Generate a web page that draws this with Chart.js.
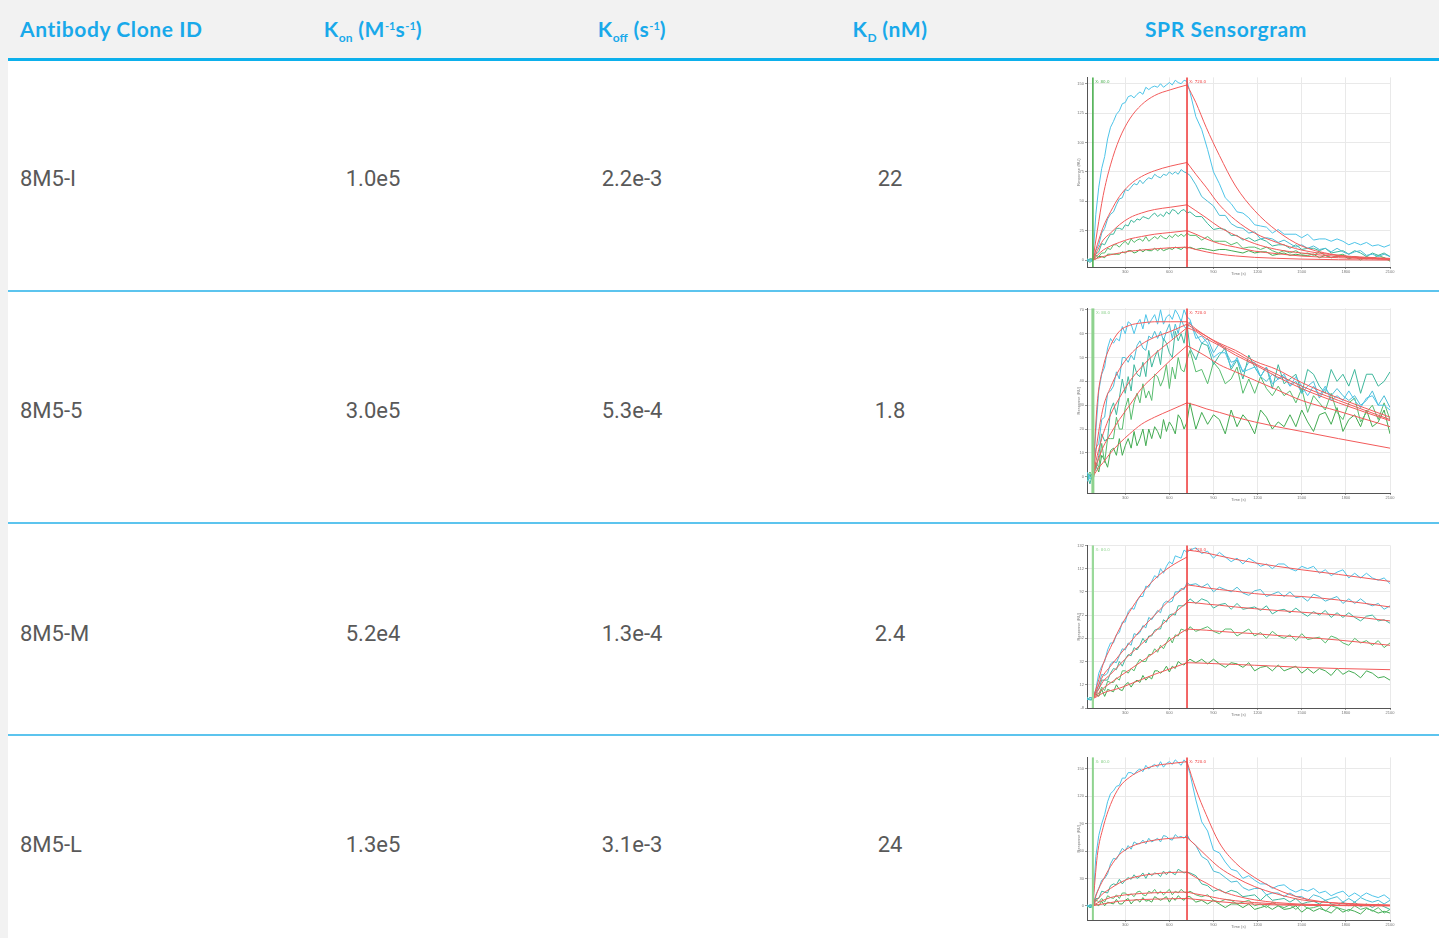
<!DOCTYPE html>
<html><head><meta charset="utf-8">
<script src="https://cdn.jsdelivr.net/npm/chart.js@4.4.1/dist/chart.umd.min.js"></script>
<style>
body{margin:0;width:1439px;height:938px;position:relative;background:#fff;overflow:hidden;font-family:Roboto,"Liberation Sans",sans-serif}
#strip{position:absolute;left:0;top:0;width:8px;height:938px;background:#f2f2f2}
#head{position:absolute;left:0;top:0;width:1439px;height:58px;background:#f2f2f2}
#headline{position:absolute;left:8px;top:58px;width:1431px;height:3px;background:#0cb0ec}
.sep{position:absolute;left:8px;width:1431px;height:2px;background:#5cc4ee}
.h{position:absolute;top:28px;transform:translate(-50%,-50%);font-family:Lato,sans-serif;font-weight:700;font-size:21px;letter-spacing:0.6px;line-height:1;color:#19a9ea;white-space:nowrap}
.h.left{transform:translate(0,-50%)}
.h sub{font-size:12px;vertical-align:-5px;line-height:0;letter-spacing:0}
.h sup{font-size:11px;vertical-align:7px;line-height:0;letter-spacing:0}
.c{position:absolute;transform:translate(-50%,-50%);font-size:22px;line-height:1;color:#595959;white-space:nowrap}
.c.left{transform:translate(0,-50%)}
canvas{position:absolute}
</style></head>
<body>
<div id="strip"></div>
<div id="head"></div>
<div id="headline"></div>
<div id="table"></div>
<canvas id="s0"></canvas><canvas id="s1"></canvas><canvas id="s2"></canvas><canvas id="s3"></canvas>
<script>
// ---------- table data ----------
const CLONES = ['8M5-I', '8M5-5', '8M5-M', '8M5-L'];
const KON = ['1.0e5', '3.0e5', '5.2e4', '1.3e5'];
const KOFF = ['2.2e-3', '5.3e-4', '1.3e-4', '3.1e-3'];
const KD = ['22', '1.8', '2.4', '24'];

// ---------- sensorgram data (time in s, response in RU) ----------
const TIME = [40,60,80,100,120,140,160,180,200,220,240,260,280,300,320,340,360,380,400,420,440,460,480,500,520,540,560,580,600,620,640,660,680,700,720,740,780,820,860,900,940,980,1020,1060,1100,1140,1180,1220,1260,1300,1340,1380,1420,1460,1500,1540,1580,1620,1660,1700,1740,1780,1820,1860,1900,1940,1980,2020,2060,2100];
const FIT_ON_T = [80,110,150,200,260,330,410,500,610,720];
const FIT_OFF_T = [720,780,850,940,1050,1180,1330,1500,1750,2100];
const INJECT_START = 80;
const INJECT_END = 720;
const X_TICKS = [300, 600, 900, 1200, 1500, 1800, 2100];

// 8M5-I
const I_A = [1,-1,0,39,62,78,88,103,113,118,124,127,133,134,139,140,138,141,143,141,147,145,147,148,147,150,147,149,151,149,153,151,150,153,152,143,122,111,94,75,65,53,48,41,40,36,30,29,28,23,26,22,22,22,19,22,17,18,18,16,18,16,13,15,13,15,12,13,11,13];
const I_B = [-1,1,0,8,13,23,27,35,39,41,47,52,53,60,59,62,65,64,68,65,68,70,69,73,71,70,73,72,75,73,75,73,77,75,74,72,64,54,50,46,38,38,31,28,27,23,24,18,19,18,15,17,14,11,13,10,12,9,10,7,10,7,5,7,8,4,5,3,5,3];
const I_C = [0,-2,0,5,7,14,13,18,22,22,27,27,26,30,29,34,32,35,34,37,36,35,38,40,37,39,37,41,39,43,42,39,42,43,40,41,37,37,31,26,27,26,21,21,17,19,16,18,16,12,13,13,10,13,9,10,10,8,10,6,7,8,5,8,6,3,6,4,6,3];
const I_D = [1,0,0,4,3,6,6,10,9,13,13,11,14,16,13,18,15,17,18,16,20,16,18,20,18,21,19,18,21,19,22,20,22,20,23,21,21,17,20,16,16,16,13,15,10,11,11,9,11,8,6,8,6,8,5,6,4,7,4,2,4,5,2,3,0,3,1,4,2,-1];
const I_E = [-1,1,1,1,3,3,2,5,5,5,5,5,7,6,8,8,6,7,9,7,9,8,8,10,8,10,8,9,10,9,11,10,9,11,10,11,9,10,9,8,9,9,8,7,6,8,6,7,7,4,5,6,4,5,4,4,5,2,4,2,3,4,1,3,2,1,2,1,2,0];
const I_FIT_ON = [[0,25,55,81,103,120,132,140,145,149],[0,13,28,41,54,64,71,76,80,83],[0,8,17,23,30,36,40,43,45,47],[0,4,8.5,12,15,18,20,22,23.5,25],[0,1.5,3,4.5,6,7.5,8.5,9.5,10.5,11]];
const I_FIT_OFF = [[149,134,113,89,63,42,25,12,4,0.5],[83,73,62,47,34,23,15,8.5,4,1.4],[47,42,36,28,21,14,9,6,3,1],[25,22,18,14,11,7.6,5.5,3.4,2,0.5],[11,9,7,5,3.5,2.3,1.5,0.8,0.3,0]];

// 8M5-5
const F_A = [2,-1,1,19,36,43,46,54,58,56,58,57,63,60,65,64,60,64,66,62,68,64,66,68,64,70,64,67,68,66,70,68,65,70,67,66,58,59,56,50,52,52,46,50,44,45,46,42,46,39,41,42,38,42,38,34,38,34,38,32,34,32,36,32,29,33,34,30,30,28];
const F_B = [-2,1,0,12,14,24,25,35,36,38,44,41,50,50,48,51,49,55,57,54,53,59,58,61,58,61,57,61,64,58,64,60,66,63,62,65,60,56,58,52,56,53,48,49,44,48,48,42,40,43,41,43,38,40,35,38,40,33,37,34,37,34,32,34,30,32,36,30,34,29];
const F_C = [1,-3,2,3,9,18,15,16,28,31,26,33,41,35,42,36,47,43,42,48,42,53,46,50,53,47,58,56,52,50,61,57,60,56,64,54,49,56,55,47,51,54,45,49,41,51,46,42,46,37,47,39,41,43,35,45,43,38,35,45,40,43,38,45,35,43,43,38,40,44];
const F_D = [0,2,0,6,4,14,6,16,16,16,25,20,20,29,33,24,31,35,31,39,33,36,32,43,42,38,41,47,37,46,41,50,45,44,49,53,44,45,39,48,45,39,41,46,35,41,35,42,37,34,38,34,36,31,37,27,34,31,28,35,27,24,31,33,23,27,30,24,31,24];
const F_E = [-1,1,-2,5,2,9,7,4,11,12,9,16,9,13,16,12,19,13,16,20,13,20,16,21,19,16,24,19,23,21,18,26,24,20,23,31,20,27,22,26,24,18,28,21,26,23,18,28,25,20,23,21,26,21,28,23,19,26,27,22,29,19,24,26,21,28,21,23,28,18];
const F_FIT_ON = [[0,31,46,55,61,63.5,64.5,65,65,65],[0,15,29,37.5,45,51,55.5,58.5,61,64],[0,9,18,26,33,40,46,51.5,57,62.5],[0,6,12.5,18,24,30,37,42.5,49,55],[0,3,6,10,14,18,22,25,28,31]];
const F_FIT_OFF = [[65,62,59,56,53,48.5,45,39.5,33,25],[64,61.5,59,55.5,52,47.5,43,38,32,24],[62.5,61,58,55,51,47,42,37,31,23.5],[55,53,50.5,47,44,40.5,36.5,32,27.5,21],[31,30,28.5,27,25,23,21,19,16,12]];

// 8M5-M
const M_A = [1,-1,1,8,22,28,32,42,48,48,55,57,66,66,75,78,77,84,88,88,97,96,101,106,104,112,108,114,118,116,123,122,121,128,126,128,130,125,127,121,126,122,118,121,116,121,118,114,116,112,116,116,112,110,114,112,114,108,111,106,109,111,104,108,104,108,104,102,104,99];
const M_B = [-1,1,1,4,12,21,20,22,30,32,31,37,43,42,48,46,56,55,57,63,61,70,68,72,76,74,82,84,83,84,92,92,95,94,100,98,99,96,99,92,96,94,92,96,91,89,93,94,88,90,92,88,92,87,88,84,90,88,84,86,88,82,86,82,86,82,80,82,77,80];
const M_C = [0,-1,-1,6,8,16,16,16,22,26,25,32,28,34,38,37,44,42,46,52,48,54,54,59,60,60,68,66,72,73,72,80,80,80,83,86,82,86,84,78,81,82,77,82,77,78,79,76,80,73,76,77,74,78,74,71,75,72,76,70,74,70,74,70,67,71,72,67,68,65];
const M_D = [1,-1,0,6,4,10,7,15,14,14,18,16,24,24,22,26,24,30,34,32,32,38,38,43,40,46,43,48,53,48,55,54,60,59,58,62,58,60,62,58,56,60,60,54,57,60,54,57,52,58,54,52,55,50,56,51,52,53,48,54,52,48,46,52,48,50,46,50,44,48];
const M_E = [-1,1,0,4,2,8,2,8,7,6,12,8,7,12,14,10,14,16,14,20,16,19,17,24,24,22,24,28,23,28,26,32,30,29,32,34,31,34,30,34,30,27,31,30,27,31,24,27,28,24,29,24,26,28,22,26,22,26,24,20,26,21,24,22,18,24,22,18,19,16];
const M_FIT_ON = [[0,12,30,44,60,75,90,103,114,122],[0,9,20,28,37.5,48,60,72,86,97.5],[0,6,15,21,29,38,47,57.5,71,83],[0,3.5,9,13.5,19,25,32,40,51,60],[0,2,5,7,9,12.5,16.5,21,26,31]];
const M_FIT_OFF = [[128,127,125.5,123,120,117,114,111,107,101],[98,97,95.5,94,92.5,90.5,89,88,85,79],[83,82.5,81.5,80.5,79,77.5,76,74.5,72,67],[60,59.5,59,58,57,56,54.5,53,50.5,46],[31,30.8,30.5,30,29.5,28.8,28,27,26,25]];

// 8M5-L
const L_A = [1,-1,0,54,77,90,100,114,123,126,131,132,140,140,146,146,144,148,150,147,154,150,153,155,152,158,152,156,158,155,160,157,154,160,156,145,116,92,82,61,58,48,40,38,30,33,28,24,24,19,22,23,18,15,18,16,19,14,16,11,14,16,10,14,10,14,11,9,12,7];
const L_B = [-1,1,1,12,19,28,30,35,46,52,51,57,63,60,66,62,70,68,68,72,68,74,70,72,74,70,77,76,73,72,78,75,76,74,78,72,66,54,50,38,36,31,26,27,20,17,19,19,12,14,14,10,14,10,10,6,12,10,6,8,10,4,8,4,9,6,4,6,2,6];
const L_C = [0,-2,-1,8,8,16,15,14,22,24,23,29,24,28,31,29,34,30,32,36,30,36,33,36,35,32,38,34,38,36,34,40,38,36,37,36,33,24,22,16,18,14,17,15,10,11,12,6,12,6,7,8,4,8,2,4,5,2,6,2,0,4,0,4,-1,2,-2,2,-1,-4];
const L_D = [1,-2,0,7,4,8,4,11,9,8,12,8,14,14,11,13,10,15,16,12,11,16,14,18,13,16,12,15,18,12,16,14,18,15,14,16,12,10,12,6,4,7,6,2,4,6,0,2,-2,4,0,-2,1,-4,2,-3,-2,0,-6,0,-2,-4,-6,0,-4,-2,-6,-2,-8,-4];
const L_E = [-2,1,0,2,0,5,0,4,3,2,7,2,2,6,8,2,6,7,4,9,5,6,4,10,8,6,8,10,4,9,6,11,8,6,10,10,4,6,2,6,2,-2,2,2,-2,2,-4,-2,0,-4,0,-4,-3,0,-7,-2,-6,-3,-5,-8,-2,-7,-4,-6,-9,-3,-5,-8,-6,-8];
const L_FIT_ON = [[0,55,86,111,130,141,148.5,153.5,156,158],[0,15,28.5,43,56,64,69,72,74,75],[0,7,13.5,19,25,30,33,35,36.5,37],[0,3,6,9,11,12.5,13.5,14.3,14.8,15],[0,1,2,3.5,5,6,6.8,7.3,7.7,8]];
const L_FIT_OFF = [[158,128,100,69,47,31,18,8.5,2.5,0.7],[75,66,55,42,31,21,13,6.5,3,0.7],[37,31,25,17,11,6.5,3.5,1.8,0.8,0.3],[15,13,11,8,5.5,3.5,2,1,0.3,0],[8,7,6,4.5,3,1.8,1,0.5,0.2,0]];

// ---------- table layout ----------
const ROW_CENTERS = [179, 411, 634, 845];
const SEPARATORS = [291, 523, 735];
const tbl = document.getElementById('table');
tbl.innerHTML =
  '<div class="h left" style="left:20px">Antibody Clone ID</div>' +
  '<div class="h" style="left:373px">K<sub>on</sub> (M<sup>-1</sup>s<sup>-1</sup>)</div>' +
  '<div class="h" style="left:632px">K<sub>off</sub> (s<sup>-1</sup>)</div>' +
  '<div class="h" style="left:890px">K<sub>D</sub> (nM)</div>' +
  '<div class="h" style="left:1226px">SPR Sensorgram</div>' +
  SEPARATORS.map(y => `<div class="sep" style="top:${y - 1}px"></div>`).join('') +
  CLONES.map((c, i) =>
    `<div class="c left" style="left:20px;top:${ROW_CENTERS[i]}px">${c}</div>` +
    `<div class="c" style="left:373px;top:${ROW_CENTERS[i]}px">${KON[i]}</div>` +
    `<div class="c" style="left:632px;top:${ROW_CENTERS[i]}px">${KOFF[i]}</div>` +
    `<div class="c" style="left:890px;top:${ROW_CENTERS[i]}px">${KD[i]}</div>`).join('');

// ---------- sensorgrams ----------
const TRACE_COLORS = ['#4ec4e8', '#4dbdd6', '#3fb79c', '#58bc6e', '#43ab52'];
const FIT_COLOR = '#f25a5a';

const markerPlugin = {
  id: 'markers',
  afterDatasetsDraw(chart, args, o) {
    const { ctx, chartArea: a, scales: { x } } = chart;
    const items = [[o.start, o.startColor, o.startWidth, o.startLabel], [o.end, '#ef4040', 1.6, o.endLabel]];
    items.forEach(([v, col, w, lab]) => {
      const px = x.getPixelForValue(v);
      ctx.save();
      ctx.strokeStyle = col; ctx.lineWidth = w;
      ctx.beginPath(); ctx.moveTo(px, a.top); ctx.lineTo(px, a.bottom); ctx.stroke();
      ctx.fillStyle = col; ctx.font = '4px "DejaVu Sans"'; ctx.textBaseline = 'top';
      ctx.fillText(lab, px + w / 2 + 1.5, a.top + 3);
      ctx.restore();
    });
  }
};

const SENSORGRAMS = [
  { traces: [I_A, I_B, I_C, I_D, I_E], on: I_FIT_ON, off: I_FIT_OFF, box: [1087, 77, 1390, 267], y: [-5.9, 155.4, 25], green: '#4caf50', gw: 1.6 },
  { traces: [F_A, F_B, F_C, F_D, F_E], on: F_FIT_ON, off: F_FIT_OFF, box: [1087, 308, 1390, 493], y: [-6.8, 70.6, 10], green: '#8ed28e', gw: 3 },
  { traces: [M_A, M_B, M_C, M_D, M_E], on: M_FIT_ON, off: M_FIT_OFF, box: [1087, 545, 1390, 708], y: [-8, 132, 20], green: '#9ad99a', gw: 2.2 },
  { traces: [L_A, L_B, L_C, L_D, L_E], on: L_FIT_ON, off: L_FIT_OFF, box: [1087, 757, 1390, 920], y: [-15.6, 162.7, 30], green: '#8fd38f', gw: 2 }
];

const YW = 11, XH = 9, PL = 1, PT = 3, PR = 6, PB = 1;

SENSORGRAMS.forEach((s, i) => {
  const cv = document.getElementById('s' + i);
  const [L, T, R, B] = s.box;
  const left = L - YW - PL, top = T - PT;
  const w = R - left + PR, h = B - top + XH + PB;
  cv.width = w; cv.height = h;
  cv.style.left = left + 'px'; cv.style.top = top + 'px';
  cv.style.width = w + 'px'; cv.style.height = h + 'px';

  const datasets = [];
  s.traces.forEach((tr, k) => datasets.push({
    data: TIME.map((t, j) => ({ x: t, y: tr[j] })),
    borderColor: TRACE_COLORS[k], borderWidth: 1, pointRadius: 0, tension: 0, order: 2
  }));
  s.on.forEach(f => datasets.push({
    data: FIT_ON_T.map((t, j) => ({ x: t, y: f[j] })),
    borderColor: FIT_COLOR, borderWidth: 1, pointRadius: 0, cubicInterpolationMode: 'monotone', order: 1
  }));
  s.off.forEach(f => datasets.push({
    data: FIT_OFF_T.map((t, j) => ({ x: t, y: f[j] })),
    borderColor: FIT_COLOR, borderWidth: 1, pointRadius: 0, cubicInterpolationMode: 'monotone', order: 1
  }));

  new Chart(cv, {
    type: 'line',
    data: { datasets },
    options: {
      responsive: false, animation: false, devicePixelRatio: 1,
      layout: { padding: { left: PL, top: PT, right: PR, bottom: PB } },
      plugins: {
        legend: { display: false }, tooltip: { enabled: false },
        markers: { start: INJECT_START, end: INJECT_END, startColor: s.green, startWidth: s.gw, startLabel: 'X: ' + INJECT_START.toFixed(1), endLabel: 'X: ' + INJECT_END.toFixed(1) }
      },
      scales: {
        x: {
          type: 'linear', min: 40, max: 2100,
          afterBuildTicks: sc => { sc.ticks = X_TICKS.map(v => ({ value: v })); },
          afterFit: sc => { sc.height = XH; },
          ticks: { font: { size: 4 }, color: '#777', padding: 0, maxRotation: 0, autoSkip: false, callback: v => String(v) },
          grid: { color: '#e9e9e9', tickLength: 2, tickColor: '#999' },
          border: { color: '#555', width: 1 },
          title: { display: true, text: 'Time (s)', font: { size: 4 }, color: '#777', padding: 0 }
        },
        y: {
          min: s.y[0], max: s.y[1],
          ticks: { stepSize: s.y[2], includeBounds: false, font: { size: 4 }, color: '#777', padding: 1, callback: v => String(v) },
          afterFit: sc => { sc.width = YW; },
          grid: { color: '#e9e9e9', tickLength: 2, tickColor: '#999' },
          border: { color: '#555', width: 1 },
          title: { display: true, text: 'Response (RU)', font: { size: 4 }, color: '#777', padding: 0 }
        }
      }
    },
    plugins: [markerPlugin]
  });
});
</script>
</body></html>
